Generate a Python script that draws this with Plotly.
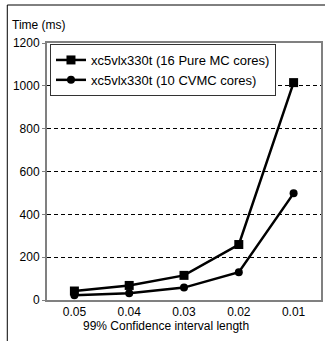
import plotly.graph_objects as go

categories = ["0.05", "0.04", "0.03", "0.02", "0.01"]
pure_mc = [42, 68, 115, 259, 1015]
cvmc = [22, 31, 58, 130, 498]
series_names = ["xc5vlx330t (16 Pure MC cores)", "xc5vlx330t (10 CVMC cores)"]
y_ticks = [0, 200, 400, 600, 800, 1000, 1200]

FONT = "Liberation Sans, Arial, sans-serif"

fig = go.Figure()
fig.add_trace(go.Scatter(
    x=categories, y=pure_mc, name=series_names[0], mode="lines+markers",
    line=dict(color="black", width=2.5),
    marker=dict(symbol="square", size=9, color="black"),
))
fig.add_trace(go.Scatter(
    x=categories, y=cvmc, name=series_names[1], mode="lines+markers",
    line=dict(color="black", width=2.5),
    marker=dict(symbol="circle", size=8, color="black"),
))

W, H = 325, 341
L, R, T, B = 47, 2, 43, 41
pw = W - L - R
ph = H - T - B

def px(xp):
    return (xp - L) / pw

def py(yp):
    return (H - B - yp) / ph

fig.update_layout(
    width=W, height=H,
    margin=dict(l=L, r=R, t=T, b=B),
    paper_bgcolor="white", plot_bgcolor="white",
    font=dict(family=FONT, size=12, color="black"),
    showlegend=True,
    legend=dict(
        x=px(50), y=py(44), xanchor="left", yanchor="top",
        bgcolor="white", bordercolor="#333333", borderwidth=1,
        font=dict(family=FONT, size=13, color="black"),
        itemwidth=30, tracegroupgap=0,
    ),
    xaxis=dict(
        type="category", range=[-0.5, 4.5],
        showgrid=False, showline=True, linecolor="#808080", linewidth=2,
        mirror=True, ticks="", tickfont=dict(size=12),
        zeroline=False,
    ),
    yaxis=dict(
        range=[0, 1200], tickvals=y_ticks,
        showgrid=True, gridcolor="black", gridwidth=1, griddash="4px,3px",
        showline=True, linecolor="#808080", linewidth=2, mirror=True,
        ticks="outside", ticklen=3, tickcolor="#808080",
        tickfont=dict(size=12), zeroline=False,
    ),
    shapes=[
        dict(type="line", xref="paper", yref="paper",
             x0=px(7), x1=px(7), y0=py(5), y1=py(345),
             line=dict(color="black", width=1)),
        dict(type="line", xref="paper", yref="paper",
             x0=px(7), x1=px(330), y0=py(5), y1=py(5),
             line=dict(color="black", width=1)),
    ],
    annotations=[
        dict(text="Time (ms)", xref="paper", yref="paper",
             x=px(10), y=py(25), xanchor="left", yanchor="middle",
             showarrow=False, font=dict(size=12)),
        dict(text="99% Confidence interval length", xref="paper", yref="paper",
             x=px(167), y=py(326), xanchor="center", yanchor="middle",
             showarrow=False, font=dict(size=12)),
    ],
)

fig.write_html(
    "out.html",
    config={"displayModeBar": False},
    post_script="document.body.style.margin='0';document.body.style.overflow='hidden';",
)
